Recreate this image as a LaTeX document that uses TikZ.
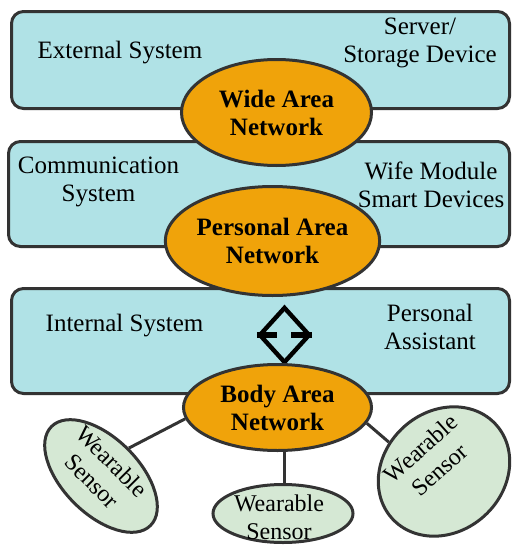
\documentclass[tikz,border=0pt]{standalone}
\usepackage{fontspec}
\setmainfont{Liberation Serif}
\usetikzlibrary{shapes.geometric}
\definecolor{boxcyan}{HTML}{B0E2E6}
\definecolor{netorange}{HTML}{F0A30A}
\definecolor{sensgreen}{HTML}{D5E8D4}
\definecolor{edgegray}{HTML}{333333}

\begin{document}
\begin{tikzpicture}[x=0.5pt, y=-0.5pt,
    box/.style={draw=edgegray, line width=1.5pt, fill=boxcyan, rounded corners=6pt,
                minimum width=249pt, minimum height=52.5pt, inner sep=0pt},
    net/.style={ellipse, draw=edgegray, line width=1.5pt, fill=netorange, inner sep=0pt,
                font=\fontsize{12.5}{14}\selectfont\bfseries, align=center},
    sensor/.style={ellipse, draw=edgegray, line width=1.5pt, fill=sensgreen,
                   inner sep=0pt, minimum width=70pt},
    txt/.style={font=\fontsize{12.5}{14}\selectfont, align=center, inner sep=0pt},
    stxt/.style={font=\fontsize{12}{14}\selectfont, align=center, inner sep=0pt},
    link/.style={diamond, draw=black, line width=2.2pt, inner sep=0pt,
                 minimum width=25.5pt, minimum height=28pt},
    edge/.style={draw=edgegray, line width=1.5pt}
]
\useasboundingbox (0,0) rectangle (513,546);

\node[box, minimum height=48.5pt] (ext) at (260.5,60) {};
\node[box, minimum width=250.5pt] (com) at (259,194) {};
\node[box] (int) at (260.5,341) {};

\node[txt] (extl) at (120,53)    {External System};
\node[txt] (srvl) at (420,43)    {Server/\\Storage Device};
\node[txt] (coml) at (98.5,181.5) {Communication\\System};
\node[txt] (wifl) at (431,185)   {Wife Module\\Smart Devices};
\node[txt] (intl) at (124.5,326) {Internal System};
\node[txt] (pasl) at (430,327)   {Personal\\Assistant};

\node[net, minimum width=95pt, minimum height=53pt]   (wan) at (276.5,112.5) {Wide Area\\Network};
\node[net, minimum width=96pt, minimum height=54.5pt] (pan) at (272.5,241)   {Personal Area\\Network};

\node[link] (lnk) at (284.5,335) {};
\draw[line width=3pt] (lnk.west) -- ++(20,0);
\draw[line width=3pt] (lnk.east) -- ++(-21,0);

\node[net, minimum width=94pt, minimum height=43pt] (ban) at (277.5,407.5) {Body Area\\Network};

\node[sensor, minimum height=38pt, rotate=-45] (ws1) at (101,476)   {};
\node[sensor, minimum height=29pt]             (ws2) at (283,513.5) {};
\node[sensor, minimum height=60pt, rotate=42]  (ws3) at (444,471.5) {};
\node[stxt, rotate=-45] (ws1l) at (102,471) {Wearable\\Sensor};
\node[stxt]             (ws2l) at (279,517) {Wearable\\Sensor};
\node[stxt, rotate=42]  (ws3l) at (430,459) {Wearable\\Sensor};

\draw[edge] (ban.187) -- (ws1.north);
\draw[edge] (ban.-81) -- (ban.-81 |- ws2.north);
\draw[edge] (ban.350) -- (ws3.110);

\end{tikzpicture}
\end{document}
